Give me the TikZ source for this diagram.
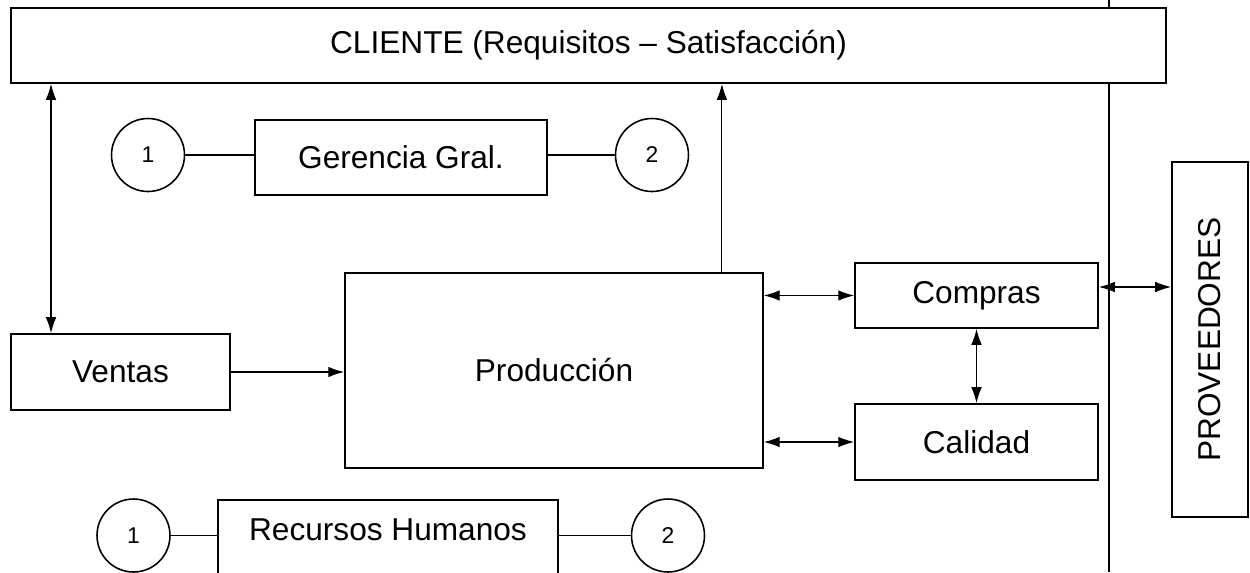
\documentclass[tikz,border=0pt]{standalone}
\usepackage{fontspec}
\setmainfont{Liberation Sans}
\usetikzlibrary{arrows.meta}

\tikzset{
  caja/.style={draw, fill=white, line width=1.1pt, inner sep=0pt, font=\fontsize{18}{21}\selectfont},
  circulo/.style={draw, circle, fill=white, line width=0.9pt, minimum size=1.46cm, inner sep=0pt, font=\fontsize{13}{15}\selectfont},
  flecha/.style={line width=0.6pt, -{Latex[length=9pt,width=6pt]}},
  dflecha/.style={line width=0.6pt, {Latex[length=9pt,width=6pt]}-{Latex[length=9pt,width=6pt]}},
  linea/.style={line width=0.8pt}
}

\begin{document}
\begin{tikzpicture}[x=0.02cm, y=-0.02cm]
  \useasboundingbox (0,0) rectangle (1250,572);
  \clip (0,0) rectangle (1250,572);

  % linea divisoria
  \coordinate (vtop) at (1109,0);
  \coordinate (vbot) at (1109,572);
  \draw[linea] (vtop) -- (vbot);

  % cajas
  \node[caja, minimum width=23.1cm, minimum height=1.5cm] (cliente) at (588.5,45.5) {CLIENTE (Requisitos -- Satisfacción)};
  \node[caja, minimum width=5.84cm, minimum height=1.5cm] (gerencia) at (401,157.5) {Gerencia Gral.};
  \node[circulo] (c1a) at (148,155) {1};
  \node[circulo] (c2a) at (652,155) {2};
  \node[caja, minimum width=4.38cm, minimum height=1.52cm] (ventas) at (120.5,372) {Ventas};
  \node[caja, minimum width=8.36cm, minimum height=3.9cm] (produccion) at (554,370.5) {Producción};
  \node[caja, minimum width=4.86cm, minimum height=1.3cm] (compras) at (976.5,295.5) {Compras};
  \node[caja, minimum width=4.86cm, minimum height=1.52cm] (calidad) at (976.5,442) {Calidad};
  \node[caja, rotate=90, minimum width=7.1cm, minimum height=1.52cm] (proveedores) at (1210,339.5) {PROVEEDORES};
  \node[caja, anchor=north, minimum width=6.8cm, text height=0.82cm, text depth=0.8cm] (rrhh) at (388,499) {Recursos Humanos};
  \node[circulo] (c1b) at (133.5,535.5) {1};
  \node[circulo] (c2b) at (668,535.5) {2};

  % conexiones
  \draw[linea] (c1a.east) -- (c1a.east -| gerencia.west);
  \draw[linea] (gerencia.east |- c2a.west) -- (c2a.west);
  \draw[linea] (c1b.east) -- (c1b.east -| rrhh.west);
  \draw[linea] (rrhh.east |- c2b.west) -- (c2b.west);

  \draw[dflecha] ([xshift=-1.39cm]ventas.north |- cliente.south) -- ([xshift=-1.39cm]ventas.north);
  \draw[flecha] ([xshift=-0.84cm]produccion.north east) -- ([xshift=-0.84cm]produccion.north east |- cliente.south);
  \draw[flecha] (ventas.east) -- (ventas.east -| produccion.west);
  \draw[dflecha] (compras.west -| produccion.east) -- (compras.west);
  \draw[dflecha] (calidad.west -| produccion.east) -- (calidad.west);
  \draw[dflecha] (compras.south) -- (calidad.north);
  \draw[dflecha] ([yshift=0.17cm]compras.east) -- ([yshift=0.17cm]compras.east -| proveedores.north);
\end{tikzpicture}
\end{document}
